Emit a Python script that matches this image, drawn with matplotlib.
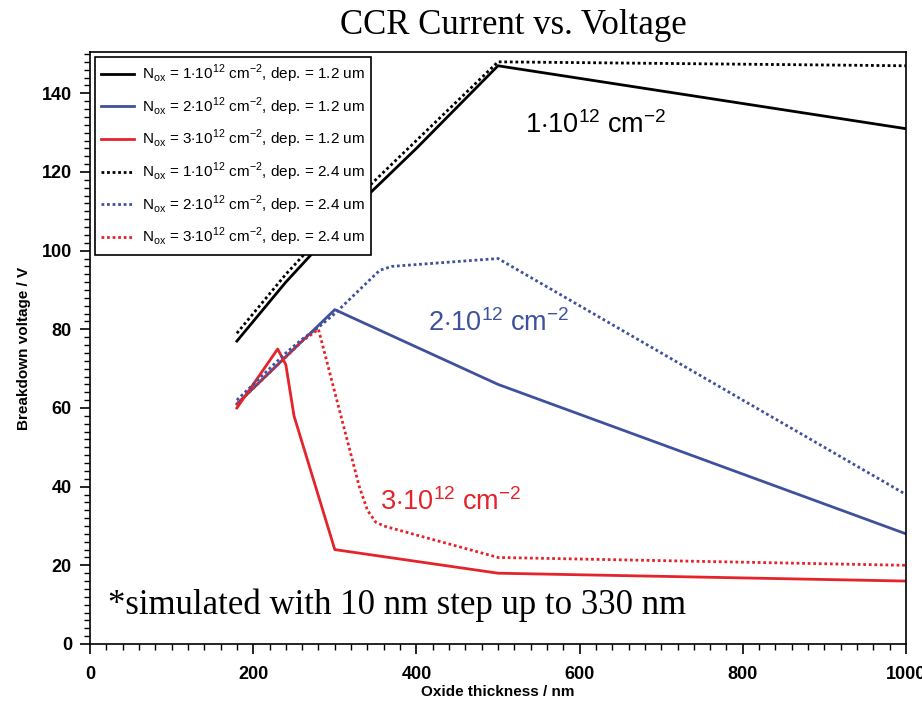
import matplotlib
matplotlib.use("Agg")
import matplotlib.pyplot as plt
from matplotlib.ticker import MultipleLocator

# ---- data ----
x_b1 = [180, 200, 220, 240, 260, 280, 300, 320, 330, 400, 500, 1000]
y_b1 = [77, 82, 87, 92, 96.5, 101, 105.5, 110, 112, 126, 147, 131]

x_b2 = [180, 200, 220, 240, 260, 280, 300, 320, 330, 400, 500, 1000]
y_b2 = [79, 84, 89, 94, 98.5, 103, 107.5, 112, 114, 128, 148, 147]

x_u1 = [180, 200, 220, 240, 260, 280, 300, 500, 1000]
y_u1 = [61, 65, 69, 73, 77, 81, 85, 66, 28]

x_u2 = [180, 200, 220, 240, 260, 280, 300, 320, 340, 355, 370, 500, 1000]
y_u2 = [62, 66, 70, 74, 77.5, 80.5, 84, 88, 92, 95, 96, 98, 38]

x_r1 = [180, 190, 200, 210, 220, 230, 240, 250, 300, 500, 1000]
y_r1 = [60, 63, 66, 69, 72, 75, 71, 58, 24, 18, 16]

x_r2 = [180, 200, 220, 240, 260, 280, 290, 300, 310, 320, 330, 340, 350, 360, 500, 1000]
y_r2 = [61, 65, 69, 73, 77, 80, 72, 64, 56, 48, 40, 34, 31, 30, 22, 20]

labels = [
    r"N$_{\rm ox}$ = 1$\cdot$10$^{12}$ cm$^{-2}$, dep. = 1.2 um",
    r"N$_{\rm ox}$ = 2$\cdot$10$^{12}$ cm$^{-2}$, dep. = 1.2 um",
    r"N$_{\rm ox}$ = 3$\cdot$10$^{12}$ cm$^{-2}$, dep. = 1.2 um",
    r"N$_{\rm ox}$ = 1$\cdot$10$^{12}$ cm$^{-2}$, dep. = 2.4 um",
    r"N$_{\rm ox}$ = 2$\cdot$10$^{12}$ cm$^{-2}$, dep. = 2.4 um",
    r"N$_{\rm ox}$ = 3$\cdot$10$^{12}$ cm$^{-2}$, dep. = 2.4 um",
]

BLACK = "#000000"
BLUE = "#3f519c"
RED = "#e5232b"

SANS = "Liberation Sans"

plt.rcParams["mathtext.fontset"] = "custom"
plt.rcParams["mathtext.rm"] = SANS

fig = plt.figure(figsize=(9.22, 7.05), dpi=100)
ax = fig.add_axes([90 / 922, 1 - 644 / 705, (906 - 90) / 922, (644 - 52) / 705])

lw = 2.0
ax.plot(x_b1, y_b1, color=BLACK, lw=lw, label=labels[0])
ax.plot(x_u1, y_u1, color=BLUE, lw=lw, label=labels[1])
ax.plot(x_r1, y_r1, color=RED, lw=lw, label=labels[2])
ax.plot(x_b2, y_b2, color=BLACK, lw=lw, ls=(0, (1, 1)), label=labels[3])
ax.plot(x_u2, y_u2, color=BLUE, lw=lw, ls=(0, (1, 1)), label=labels[4])
ax.plot(x_r2, y_r2, color=RED, lw=lw, ls=(0, (1, 1)), label=labels[5])

ax.set_xlim(0, 1000)
ax.set_ylim(0, 150.5)
ax.xaxis.set_major_locator(MultipleLocator(200))
ax.xaxis.set_minor_locator(MultipleLocator(20))
ax.yaxis.set_major_locator(MultipleLocator(20))
ax.yaxis.set_minor_locator(MultipleLocator(2))
ax.tick_params(which="major", direction="out", length=7, width=1.2, labelsize=13)
ax.tick_params(which="minor", direction="out", length=4, width=1.0)
ax.tick_params(axis="x", pad=9)
ax.tick_params(axis="y", pad=6)
for lab in ax.get_xticklabels() + ax.get_yticklabels():
    lab.set_fontweight("bold")
    lab.set_fontfamily(SANS)
for sp in ax.spines.values():
    sp.set_linewidth(1.2)

ax.set_xlabel("Oxide thickness / nm", fontsize=11, fontweight="bold",
              family=SANS, labelpad=1)
ax.set_ylabel("Breakdown voltage / V", fontsize=11, fontweight="bold",
              family=SANS, labelpad=8)

leg = ax.legend(loc="upper left", prop={"family": SANS, "size": 11},
                frameon=True, fancybox=False, framealpha=1,
                edgecolor="black", handlelength=2.2, handletextpad=0.5,
                labelspacing=0.68, borderpad=0.4, borderaxespad=0.3)
leg.get_frame().set_linewidth(1.2)

ax.text(533, 130, r"1$\cdot$10$^{12}$ cm$^{-2}$", fontsize=19.5, color=BLACK,
        family=SANS)
ax.text(414, 79.5, r"2$\cdot$10$^{12}$ cm$^{-2}$", fontsize=19.5, color=BLUE,
        family=SANS)
ax.text(355, 34, r"3$\cdot$10$^{12}$ cm$^{-2}$", fontsize=19.5, color=RED,
        family=SANS)

ax.text(22, 7.5, "*simulated with 10 nm step up to 330 nm", fontsize=25,
        family="Liberation Serif", color="black")

fig.text(513 / 922, 1 - 26 / 705, "CCR Current vs. Voltage", fontsize=25,
         family="Liberation Serif", ha="center", va="center")

fig.savefig("out.png", dpi=100)
